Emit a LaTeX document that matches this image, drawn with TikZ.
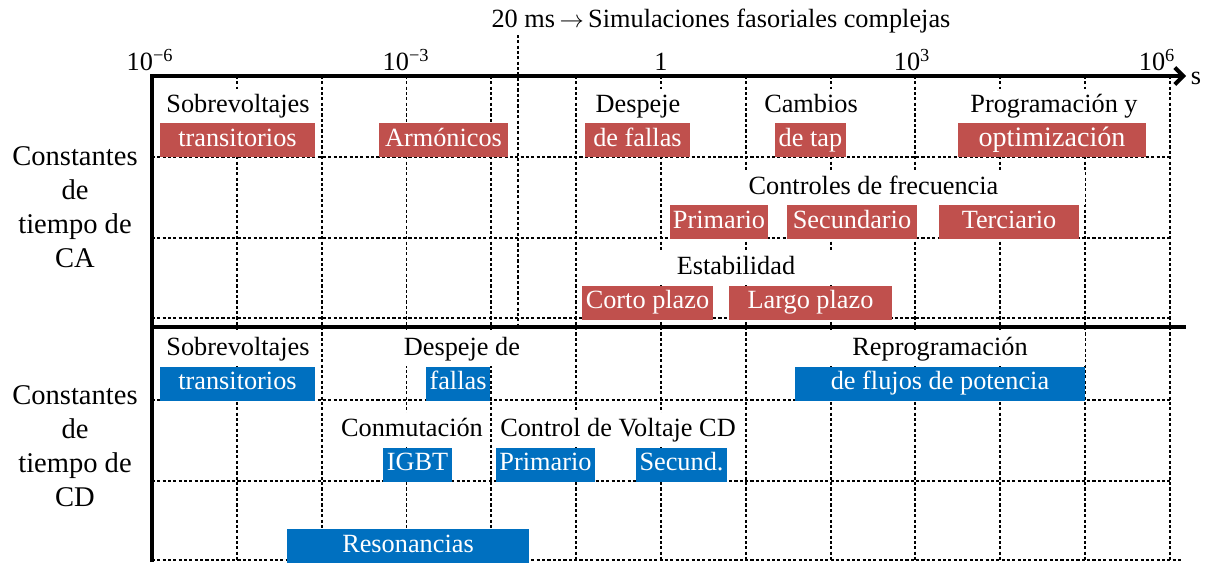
\documentclass[tikz,border=0pt]{standalone}
\usepackage{fontspec}
\setmainfont{Liberation Serif}
\usetikzlibrary{arrows.meta}
\definecolor{acred}{RGB}{192,80,77}
\definecolor{cdblue}{RGB}{0,112,192}
\newlength{\px}
\setlength{\px}{0.025cm}

\begin{document}
\begin{tikzpicture}%
        [x=0.025cm, y=-0.025cm,
        axisline/.style={color=black, line width=2.8pt},
        gridline/.style={color=black, line width=1.4pt, dash pattern=on 2.2pt off 1.6pt},
        lbl/.style={fill=white, inner sep=1pt, minimum height=34\px,
            text height=13pt, text depth=4pt, font=\fontsize{18.7pt}{22pt}\selectfont},
        acbox/.style={fill=acred, text=white, inner sep=0pt, minimum height=34\px,
            text height=13pt, text depth=4pt, font=\fontsize{18.7pt}{22pt}\selectfont},
        cdbox/.style={acbox, fill=cdblue},
        sidelbl/.style={align=center, font=\fontsize{20.3pt}{24.2pt}\selectfont},
        ticklbl/.style={anchor=base, font=\fontsize{18.7pt}{22pt}\selectfont}]
    \useasboundingbox (0,0) rectangle (1206,562);
    %
    %% Drawing the grid
    \foreach \k in {1,...,12}
        \draw[gridline] ({152+84.83*\k},76) -- ({152+84.83*\k},560);
    \foreach \r in {157,238,318,400,481}
        \draw[gridline] (152,\r) -- (1171,\r);
    \draw[gridline] (152,560) -- (1183,560);
    \draw[gridline] (518,35) -- (518,327);
    %
    %% Axis labels
    \node[ticklbl] (titulo) at (721,27) {20 ms\,$\rightarrow$\,Simulaciones fasoriales complejas};
    \node[ticklbl] (tmseis) at (150,70) {10\textsuperscript{−6}};
    \node[ticklbl] (tmtres) at (406,70) {10\textsuperscript{−3}};
    \node[ticklbl] (tuno) at (661,70) {1};
    \node[ticklbl] (ttres) at (912,70) {10\textsuperscript{3}};
    \node[ticklbl] (tseis) at (1157,70) {10\textsuperscript{6}};
    \node[ticklbl, anchor=base west] (unidad) at (1186,84) {s};
    \node[sidelbl] (ladoca) at (75,207) {Constantes\\de\\tiempo de\\CA};
    \node[sidelbl] (ladocd) at (75,446) {Constantes\\de\\tiempo de\\CD};
    %
    %% Constantes de tiempo de CA
    \node[lbl] (sobreca) at (238,106) {Sobrevoltajes};
    \node[lbl] (despca) at (638,106) {Despeje};
    \node[lbl] (cambios) at (811,106) {Cambios};
    \node[lbl] (prog) at (1054,106) {Programación y};
    \node[acbox, minimum width=155\px] (transca) at (237.5,140) {transitorios};
    \node[acbox, minimum width=129\px] (armon) at (443.5,140) {Armónicos};
    \node[acbox, minimum width=105\px] (fallasca) at (637.5,140) {de fallas};
    \node[acbox, minimum width=71\px] (tap) at (810.5,140) {de tap};
    \node[acbox, minimum width=188\px, font=\fontsize{20pt}{24pt}\selectfont] (optim) at (1052,140) {optimización};
    %
    \node[lbl, minimum width=423\px] (frec) at (873.5,188) {Controles de frecuencia};
    \node[acbox, minimum width=98\px] (primca) at (719,222) {Primario};
    \node[acbox, minimum width=130\px] (secca) at (852,222) {Secundario};
    \node[acbox, minimum width=140\px] (terc) at (1009,222) {Terciario};
    %
    \node[lbl, minimum width=308\px] (estab) at (736,268) {Estabilidad};
    \node[acbox, minimum width=131\px] (corto) at (647.5,302.5) {Corto plazo};
    \node[acbox, minimum width=163\px] (largo) at (810.5,302.5) {Largo plazo};
    %
    %% Constantes de tiempo de CD
    \node[lbl] (sobrecd) at (238,349) {Sobrevoltajes};
    \node[lbl] (despcd) at (462,349) {Despeje de};
    \node[lbl, minimum width=290\px] (reprog) at (940,349) {Reprogramación};
    \node[cdbox, minimum width=155\px] (transcd) at (237.5,383.5) {transitorios};
    \node[cdbox, minimum width=64\px] (fallascd) at (458,383.5) {fallas};
    \node[cdbox, minimum width=290\px] (flujos) at (940,383.5) {de flujos de potencia};
    %
    \node[lbl] (conmut) at (412,430) {Conmutación};
    \node[lbl] (voltcd) at (618,430) {Control de Voltaje CD};
    \node[cdbox, minimum width=69\px] (igbt) at (417.5,464.5) {IGBT};
    \node[cdbox, minimum width=99\px] (primcd) at (545.5,464.5) {Primario};
    \node[cdbox, minimum width=91\px] (seccd) at (681.5,464.5) {Secund.};
    %
    \node[cdbox, minimum width=242\px] (reson) at (408,546) {Resonancias};
    %
    %% Drawing the axes
    \draw[axisline,-{Straight Barb[length=6pt,width=12pt]}] (152,562) -- (152,76) -- (1186,76);
    \draw[axisline] (152,327) -- (1186,327);
    \end{tikzpicture}
\end{document}
